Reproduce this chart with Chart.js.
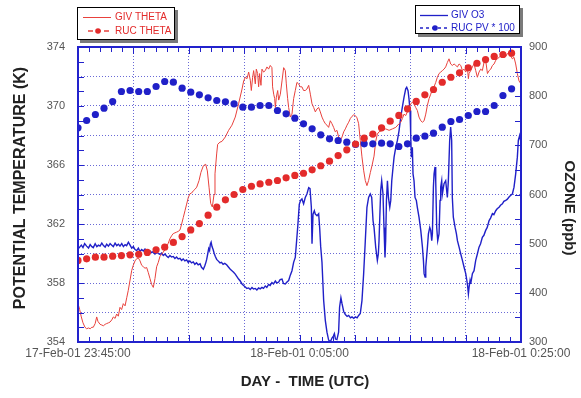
<!DOCTYPE html>
<html>
<head>
<meta charset="utf-8">
<script src="https://cdn.jsdelivr.net/npm/chart.js@4.4.1/dist/chart.umd.min.js"></script>
<style>
  html, body { margin: 0; padding: 0; background: #fff; }
  #wrap { width: 581px; height: 398px; }
</style>
</head>
<body>
<div id="wrap"><canvas id="myChart" width="581" height="398"></canvas></div>
<script>
'use strict';

// x values are minutes after 17-Feb-01 23:45:00
let xTickValues = [0, 20, 40];
let xTickLabels = ['17-Feb-01 23:45:00', '18-Feb-01 0:05:00', '18-Feb-01 0:25:00'];
let leftTickLabels = [354, 358, 362, 366, 370, 374];

// GIV THETA (K), aircraft
let givThetaTime = [
  0.0, 0.15, 0.3, 0.45, 0.63, 0.78, 0.95, 1.1, 1.25, 1.38,
  1.55, 1.69, 1.8, 1.99, 2.15, 2.29, 2.45, 2.59, 2.75, 2.89,
  3.05, 3.19, 3.35, 3.49, 3.64, 3.79, 3.94, 4.09, 4.25, 4.4,
  4.54, 4.7, 4.85, 4.99, 5.15, 5.3, 5.45, 5.6, 5.75, 5.9,
  6.05, 6.2, 6.35, 6.5, 6.65, 6.8, 6.95, 7.1, 7.25, 7.4,
  7.55, 7.7, 7.85, 8.0, 8.15, 8.3, 8.45, 8.6, 8.75, 8.91,
  9.05, 9.21, 9.36, 9.51, 9.66, 9.81, 9.96, 10.11, 10.26, 10.41,
  10.56, 10.72, 10.93, 11.1, 11.32, 11.53, 11.68, 11.83, 11.98, 12.13,
  12.28, 12.37, 12.52, 12.61, 12.82, 13.0, 13.3, 13.6, 13.9, 14.2,
  14.5, 14.81, 14.96, 15.11, 15.26, 15.41, 15.56, 15.65, 15.77, 15.86,
  16.01, 16.1, 16.22, 16.31, 16.4, 16.52, 16.61, 16.76, 16.91, 17.06,
  17.21, 17.36, 17.51, 17.57, 17.67, 17.76, 17.82, 17.91, 18.03, 18.12,
  18.27, 18.42, 18.57, 18.72, 18.81, 18.93, 19.02, 19.17, 19.32, 19.47,
  19.62, 19.77, 19.92, 20.07, 20.22, 20.37, 20.52, 20.67, 20.83, 20.98,
  21.13, 21.28, 21.43, 21.58, 21.73, 21.88, 22.03, 22.18, 22.33, 22.48,
  22.63, 22.78, 22.93, 23.08, 23.23, 23.38, 23.53, 23.68, 23.84, 23.99,
  24.14, 24.29, 24.44, 24.59, 24.74, 24.89, 25.04, 25.19, 25.34, 25.49,
  25.64, 25.79, 25.94, 26.09, 26.24, 26.4, 26.56, 26.73, 26.88, 27.03,
  27.18, 27.48, 27.78, 28.09, 28.39, 28.69, 28.99, 29.14, 29.29, 29.44,
  29.59, 29.74, 29.89, 30.04, 30.19, 30.34, 30.49, 30.64, 30.79, 30.95,
  31.1, 31.25, 31.4, 31.55, 31.7, 31.85, 32.0, 32.15, 32.3, 32.45,
  32.6, 32.75, 32.9, 33.05, 33.2, 33.35, 33.5, 33.65, 33.8, 33.96,
  34.11, 34.26, 34.41, 34.56, 34.71, 34.86, 35.01, 35.16, 35.25, 35.31,
  35.46, 35.61, 35.76, 35.91, 36.06, 36.21, 36.36, 36.51, 36.66, 36.81,
  36.97, 37.12, 37.27, 37.42, 37.57, 37.72, 37.87, 38.02, 38.17, 38.32,
  38.47, 38.62, 38.77, 38.92, 39.07, 39.22, 39.37, 39.52, 39.67, 39.82, 40.0
];
let givThetaK = [
  356.6, 356.2, 355.7, 355.3, 355.0, 354.9, 354.95, 354.9, 355.0, 355.0,
  355.25, 355.7, 355.4, 355.2, 355.15, 355.1, 355.2, 355.25, 355.3, 355.35,
  355.5, 355.7, 355.6, 355.9, 355.75, 356.35, 356.2, 356.6, 356.45, 357.0,
  357.5, 358.2, 358.85, 359.2, 359.5, 359.65, 359.7, 359.5, 359.2, 359.1,
  359.0, 359.05, 358.7, 358.3, 357.9, 357.7, 358.3, 359.1, 359.4, 359.8,
  359.95, 360.1, 360.25, 360.45, 360.7, 361.0, 361.2, 361.35, 361.4, 361.45,
  361.5, 361.6, 362.0, 362.45, 362.9, 363.35, 363.8, 364.05, 364.1, 364.25,
  364.35, 364.5, 364.95, 365.5, 365.95, 366.05, 365.6, 364.5, 363.4, 363.15,
  364.0, 365.4, 366.75, 367.4, 367.55, 367.6, 367.9, 368.35, 368.7, 369.25,
  370.15, 371.15, 371.7, 371.95, 371.85, 372.3, 371.75, 371.05, 371.95, 372.4,
  371.5, 372.5, 372.2, 371.3, 372.2, 371.4, 372.5, 372.3, 372.4, 372.65,
  372.5, 372.75, 372.6, 371.3, 370.8, 370.5, 369.9, 370.6, 371.05, 370.4,
  370.8, 371.7, 372.6, 372.4, 371.5, 370.5, 369.9, 369.25, 369.45, 370.5,
  371.05, 371.6, 371.5, 371.3, 371.3, 371.05, 371.05, 371.15, 371.4, 370.8,
  370.15, 369.9, 369.6, 369.8, 369.9, 369.6, 369.25, 369.0, 368.8, 368.7,
  368.55, 369.0, 368.8, 368.55, 368.25, 368.35, 367.9, 367.65, 367.9, 368.25,
  368.45, 368.7, 368.9, 369.15, 369.3, 369.4, 369.35, 369.2, 368.8, 367.65,
  366.55, 365.65, 364.95, 364.6, 364.95, 365.5, 366.0, 366.6, 367.6, 368.1,
  368.25, 368.35, 368.45, 368.35, 368.45, 368.55, 368.8, 368.9, 369.15, 369.45,
  369.35, 369.6, 369.9, 370.15, 370.25, 370.15, 369.9, 369.7, 369.25, 369.0,
  368.9, 369.0, 369.45, 370.05, 370.5, 370.8, 371.15, 371.3, 371.6, 371.95,
  372.2, 372.3, 372.4, 372.5, 372.65, 372.95, 373.2, 372.85, 372.75, 372.85,
  372.75, 372.65, 372.85, 372.75, 372.4, 372.5, 372.3, 372.6, 371.85, 372.2,
  372.4, 372.65, 372.85, 372.4, 371.95, 372.3, 372.5, 372.4, 372.95, 373.1,
  372.2, 372.4, 372.5, 372.75, 372.85, 373.1, 373.2, 373.3, 373.4, 373.55,
  373.4, 373.35, 373.55, 373.65, 373.4, 373.2, 373.3, 372.85, 372.2, 371.7, 371.5
];

// GIV O3 (ppb), aircraft
let givO3Time = [
  0.0, 0.15, 0.3, 0.45, 0.6, 0.78, 0.95, 1.1, 1.25, 1.38,
  1.55, 1.7, 1.85, 1.99, 2.15, 2.3, 2.45, 2.59, 2.75, 2.9,
  3.05, 3.19, 3.35, 3.5, 3.65, 3.79, 3.95, 4.1, 4.25, 4.39,
  4.55, 4.7, 4.85, 5.0, 5.15, 5.3, 5.45, 5.6, 5.75, 5.9,
  6.05, 6.2, 6.35, 6.5, 6.65, 6.8, 6.95, 7.1, 7.25, 7.4,
  7.55, 7.7, 7.85, 8.0, 8.15, 8.3, 8.45, 8.61, 8.75, 8.9,
  9.05, 9.21, 9.35, 9.5, 9.65, 9.81, 9.95, 10.1, 10.25, 10.41,
  10.55, 10.7, 10.85, 11.02, 11.15, 11.32, 11.45, 11.55, 11.62, 11.72,
  11.8, 11.88, 11.95, 12.02, 12.1, 12.2, 12.3, 12.4, 12.52, 12.65,
  12.82, 12.95, 13.1, 13.25, 13.42, 13.6, 13.75, 13.9, 14.05, 14.2,
  14.35, 14.5, 14.65, 14.81, 14.95, 15.11, 15.25, 15.41, 15.55, 15.71,
  15.85, 16.01, 16.15, 16.31, 16.45, 16.61, 16.75, 16.91, 17.05, 17.21,
  17.35, 17.51, 17.65, 17.82, 17.95, 18.12, 18.25, 18.42, 18.55, 18.72,
  18.87, 19.02, 19.17, 19.32, 19.47, 19.62, 19.74, 19.86, 19.98, 20.1,
  20.22, 20.37, 20.52, 20.67, 20.83, 20.95, 21.07, 21.13, 21.22, 21.34,
  21.43, 21.58, 21.73, 21.82, 21.91, 22.03, 22.18, 22.33, 22.48, 22.63,
  22.78, 22.93, 23.06, 23.15, 23.25, 23.38, 23.53, 23.62, 23.74, 23.84,
  23.99, 24.14, 24.3, 24.44, 24.6, 24.74, 24.9, 25.04, 25.2, 25.34,
  25.49, 25.64, 25.79, 25.94, 26.09, 26.24, 26.39, 26.52, 26.64, 26.73,
  26.88, 27.03, 27.12, 27.18, 27.33, 27.42, 27.54, 27.63, 27.72, 27.78,
  27.85, 27.94, 28.03, 28.15, 28.24, 28.33, 28.45, 28.54, 28.69, 28.84,
  28.99, 29.14, 29.29, 29.44, 29.59, 29.68, 29.8, 29.89, 29.98, 30.04,
  30.1, 30.19, 30.25, 30.34, 30.43, 30.55, 30.64, 30.79, 30.95, 31.1,
  31.19, 31.25, 31.34, 31.4, 31.55, 31.64, 31.76, 31.85, 31.94, 32.0,
  32.09, 32.15, 32.24, 32.3, 32.39, 32.48, 32.6, 32.69, 32.75, 32.84,
  32.9, 33.05, 33.2, 33.35, 33.44, 33.56, 33.65, 33.74, 33.8, 33.89,
  34.05, 34.17, 34.26, 34.41, 34.56, 34.71, 34.86, 35.01, 35.16, 35.25,
  35.31, 35.4, 35.46, 35.61, 35.76, 35.91, 36.06, 36.21, 36.35, 36.51,
  36.65, 36.81, 36.95, 37.12, 37.25, 37.42, 37.55, 37.72, 37.85, 38.02,
  38.15, 38.32, 38.45, 38.62, 38.75, 38.92, 39.05, 39.22, 39.37, 39.52,
  39.67, 39.76, 39.88, 40.0
];
let givO3Ppb = [
  489, 493, 497, 492, 500, 495, 491, 498, 494, 492,
  500, 494, 497, 495, 501, 496, 493, 499, 495, 500,
  497, 494, 501, 496, 499, 495, 500, 494, 498, 496,
  503, 497, 491, 494, 488, 486, 491, 484, 488, 485,
  489, 486, 481, 485, 482, 484, 479, 483, 480, 478,
  481, 476, 479, 475, 472, 476, 473, 474, 470, 473,
  469, 470, 466, 469, 465, 467, 462, 465, 461, 463,
  458, 461, 457, 459, 452, 448, 455, 462, 468, 480,
  490, 486, 499, 503, 494, 488, 480, 474, 468, 465,
  461, 462, 458, 460, 457, 452, 448, 445, 442, 438,
  433, 428, 424, 418, 415, 412, 409, 410, 407, 411,
  408, 409, 406, 410, 408, 411, 409, 414, 411, 417,
  415, 421, 418, 424, 420, 422, 427, 428, 419, 418,
  422, 425, 436, 445, 462, 472, 506, 540, 580, 588,
  591, 581, 594, 601, 614, 612, 574, 500, 560, 567,
  560, 557, 561, 533, 495, 462, 385, 344, 320, 304,
  300, 308, 312, 317, 306, 305, 320, 371, 390, 378,
  362, 356, 352, 354, 349, 351, 348, 351, 349, 354,
  358, 384, 438, 505, 574, 594, 601, 594, 547, 533,
  493, 466, 479, 506, 608, 628, 601, 533, 472, 506,
  588, 628, 594, 574, 588, 628, 656, 676, 696, 710,
  730, 757, 778, 798, 815, 818, 811, 794, 771, 723,
  676, 696, 642, 628, 594, 588, 574, 554, 527, 493,
  466, 439, 432, 452, 493, 520, 533, 527, 506, 520,
  615, 642, 656, 628, 533, 506, 520, 588, 615, 628,
  601, 622, 628, 594, 628, 710, 737, 710, 594, 554,
  533, 520, 506, 493, 479, 466, 452, 439, 418, 398,
  411, 425, 418, 439, 445, 466, 479, 493, 500, 513,
  517, 527, 533, 547, 552, 561, 559, 567, 571, 574,
  578, 581, 586, 588, 590, 595, 598, 601, 615, 642,
  676, 710, 720, 705
];

// RUC model values along the flight track
let rucTime = [
  0, 0.78, 1.57, 2.35, 3.13, 3.92, 4.70, 5.48, 6.26, 7.05,
  7.83, 8.61, 9.40, 10.18, 10.96, 11.75, 12.53, 13.31, 14.09, 14.88,
  15.66, 16.44, 17.23, 18.01, 18.79, 19.58, 20.36, 21.14, 21.92, 22.71,
  23.49, 24.27, 25.06, 25.84, 26.62, 27.41, 28.19, 28.97, 29.75, 30.54,
  31.32, 32.10, 32.89, 33.67, 34.45, 35.24, 36.02, 36.80, 37.58, 38.37, 39.15
];
let rucThetaK = [
  359.53, 359.64, 359.75, 359.75, 359.82, 359.86, 359.91, 359.95, 360.07, 360.25,
  360.43, 360.75, 361.15, 361.6, 362.03, 362.6, 363.14, 363.64, 364.0, 364.34,
  364.56, 364.72, 364.83, 364.95, 365.13, 365.29, 365.44, 365.67, 365.95, 366.26,
  366.64, 367.03, 367.42, 367.82, 368.1, 368.52, 368.97, 369.36, 369.81, 370.31,
  370.76, 371.12, 371.61, 371.95, 372.25, 372.59, 372.9, 373.15, 373.36, 373.49, 373.58
];
let rucPv100 = [
  735.6, 750.5, 762.7, 775.5, 789.1, 809.5, 811.5, 809.5, 809.5, 819.7,
  829.8, 828.4, 816.2, 808.1, 802.8, 796.7, 791.2, 788.5, 784.5, 777.6,
  777.6, 781, 781, 770.8, 764.1, 755.2, 743.8, 733.6, 721.4, 713.3,
  709.8, 706.4, 701.7, 703.1, 703.1, 704.3, 703.1, 697.6, 703.1, 714.5,
  718.6, 724.7, 736.9, 748.5, 752.5, 760.7, 768.8, 768.8, 781, 801.4, 815
];

let red = '#e32b2b';
let redLine = '#e8413c';
let blue = '#2020c8';
let axisBlue = '#2222cc';
let gridBlue = '#6a6ad6';
let fontFamily = '"Liberation Sans", Arial, sans-serif';

function points(xs, ys) {
  let output = [];
  for (let i = 0; i < xs.length; i++) {
    output.push({x: xs[i], y: ys[i]});
  }
  return output;
}

// border, inward tick marks, legend boxes and axis titles
let decorations = {
  id: 'decorations',
  afterDraw(chart) {
    let ctx = chart.ctx;
    let a = chart.chartArea;
    let sx = chart.scales.x, sy = chart.scales.y, sy1 = chart.scales.y1;
    ctx.save();

    ctx.strokeStyle = axisBlue;
    ctx.lineWidth = 1;
    ctx.beginPath();
    for (let v = 354; v <= 374; v++) {
      let y = Math.round(sy.getPixelForValue(v)) + 0.5;
      ctx.moveTo(a.left, y); ctx.lineTo(a.left + 6, y);
    }
    for (let v = 300; v <= 900; v += 50) {
      let y = Math.round(sy1.getPixelForValue(v)) + 0.5;
      ctx.moveTo(a.right, y); ctx.lineTo(a.right - 6, y);
    }
    for (let m = 0; m <= 40; m++) {
      let x = Math.round(sx.getPixelForValue(m)) + 0.5;
      let len = m % 5 === 0 ? 7 : 5;
      ctx.moveTo(x, a.bottom); ctx.lineTo(x, a.bottom - len);
      ctx.moveTo(x, a.top); ctx.lineTo(x, a.top + len);
    }
    ctx.stroke();

    ctx.lineWidth = 2;
    ctx.strokeRect(a.left, a.top, a.right - a.left, a.bottom - a.top);

    // legend boxes
    function box(x, y, w, h) {
      ctx.fillStyle = '#7a7a7a';
      ctx.fillRect(x + 3, y + 3, w, h);
      ctx.fillStyle = '#fff';
      ctx.fillRect(x, y, w, h);
      ctx.strokeStyle = '#000';
      ctx.lineWidth = 1;
      ctx.strokeRect(x + 0.5, y + 0.5, w - 1, h - 1);
    }
    ctx.font = '10px ' + fontFamily;
    ctx.textBaseline = 'middle';
    ctx.textAlign = 'left';

    box(77, 7, 98, 33);
    ctx.strokeStyle = redLine;
    ctx.lineWidth = 1;
    ctx.beginPath(); ctx.moveTo(83, 17.5); ctx.lineTo(111, 17.5); ctx.stroke();
    ctx.setLineDash([5, 3]);
    ctx.lineWidth = 1.5;
    ctx.beginPath(); ctx.moveTo(88, 31); ctx.lineTo(110, 31); ctx.stroke();
    ctx.setLineDash([]);
    ctx.fillStyle = red;
    ctx.beginPath(); ctx.arc(98, 31, 2.8, 0, Math.PI * 2); ctx.fill();
    ctx.fillText('GIV THETA', 115, 17.5);
    ctx.fillText('RUC THETA', 115, 31);

    box(415, 5, 105, 29);
    ctx.strokeStyle = blue;
    ctx.lineWidth = 1.3;
    ctx.beginPath(); ctx.moveTo(420, 15.5); ctx.lineTo(448, 15.5); ctx.stroke();
    ctx.setLineDash([3, 3]);
    ctx.lineWidth = 1.5;
    ctx.beginPath(); ctx.moveTo(420, 28); ctx.lineTo(448, 28); ctx.stroke();
    ctx.setLineDash([]);
    ctx.fillStyle = blue;
    ctx.beginPath(); ctx.arc(435, 28, 2.8, 0, Math.PI * 2); ctx.fill();
    ctx.fillText('GIV O3', 451, 15.5);
    ctx.fillText('RUC PV * 100', 451, 28);

    // axis titles
    ctx.fillStyle = '#222';
    ctx.textAlign = 'center';
    ctx.font = 'bold 15px ' + fontFamily;
    ctx.fillText('DAY -  TIME (UTC)', 305, 382);

    ctx.save();
    ctx.font = 'bold 16px ' + fontFamily;
    ctx.translate(21, 188);
    ctx.rotate(-Math.PI / 2);
    ctx.fillText('POTENTIAL TEMPERATURE (K)', 0, 0);
    ctx.restore();

    ctx.save();
    ctx.translate(569, 208);
    ctx.rotate(Math.PI / 2);
    ctx.fillText('OZONE (ppb)', 0, 0);
    ctx.restore();

    ctx.restore();
  }
};

let tickFont = {family: fontFamily, size: 11};

let ctx = document.getElementById('myChart').getContext('2d');
let myChart = new Chart(ctx, {
  type: 'scatter',
  data: {
    datasets: [
      {
        label: 'RUC THETA',
        data: points(rucTime, rucThetaK),
        yAxisID: 'y',
        showLine: false,
        pointRadius: 3.6,
        pointBackgroundColor: red,
        pointBorderWidth: 0
      },
      {
        label: 'RUC PV * 100',
        data: points(rucTime, rucPv100),
        yAxisID: 'y1',
        showLine: false,
        pointRadius: 3.6,
        pointBackgroundColor: blue,
        pointBorderWidth: 0
      },
      {
        label: 'GIV THETA',
        data: points(givThetaTime, givThetaK),
        yAxisID: 'y',
        showLine: true,
        borderColor: redLine,
        borderWidth: 1,
        pointRadius: 0,
        tension: 0
      },
      {
        label: 'GIV O3',
        data: points(givO3Time, givO3Ppb),
        yAxisID: 'y1',
        showLine: true,
        borderColor: blue,
        borderWidth: 1.4,
        pointRadius: 0,
        tension: 0
      }
    ]
  },
  options: {
    responsive: false,
    animation: false,
    events: [],
    layout: {padding: {top: 47, left: 0, right: 0, bottom: 0}},
    plugins: {
      legend: {display: false},
      tooltip: {enabled: false}
    },
    scales: {
      x: {
        type: 'linear',
        position: 'bottom',
        min: 0,
        max: 40,
        afterFit: function (s) { s.height = 56; },
        ticks: {
          stepSize: 5,
          autoSkip: false,
          maxRotation: 0,
          padding: 4,
          color: '#555',
          font: {family: fontFamily, size: 12},
          callback: function (v) {
            let i = xTickValues.indexOf(v);
            return i >= 0 ? xTickLabels[i] : '';
          }
        },
        grid: {color: gridBlue, lineWidth: 1, drawTicks: false},
        border: {display: false, dash: [1, 2]}
      },
      y: {
        type: 'linear',
        position: 'left',
        min: 354,
        max: 374,
        afterFit: function (s) { s.width = 78; },
        ticks: {
          stepSize: 2,
          padding: 13,
          color: '#555',
          font: tickFont,
          callback: function (v) {
            return leftTickLabels.includes(v) ? String(v) : '';
          }
        },
        grid: {color: gridBlue, lineWidth: 1, drawTicks: false},
        border: {display: false, dash: [1, 2]}
      },
      y1: {
        type: 'linear',
        position: 'right',
        min: 300,
        max: 900,
        afterFit: function (s) { s.width = 60; },
        ticks: {
          stepSize: 100,
          padding: 8,
          color: '#555',
          font: tickFont
        },
        grid: {display: false, drawTicks: false},
        border: {display: false}
      }
    }
  },
  plugins: [decorations]
});
</script>
</body>
</html>
